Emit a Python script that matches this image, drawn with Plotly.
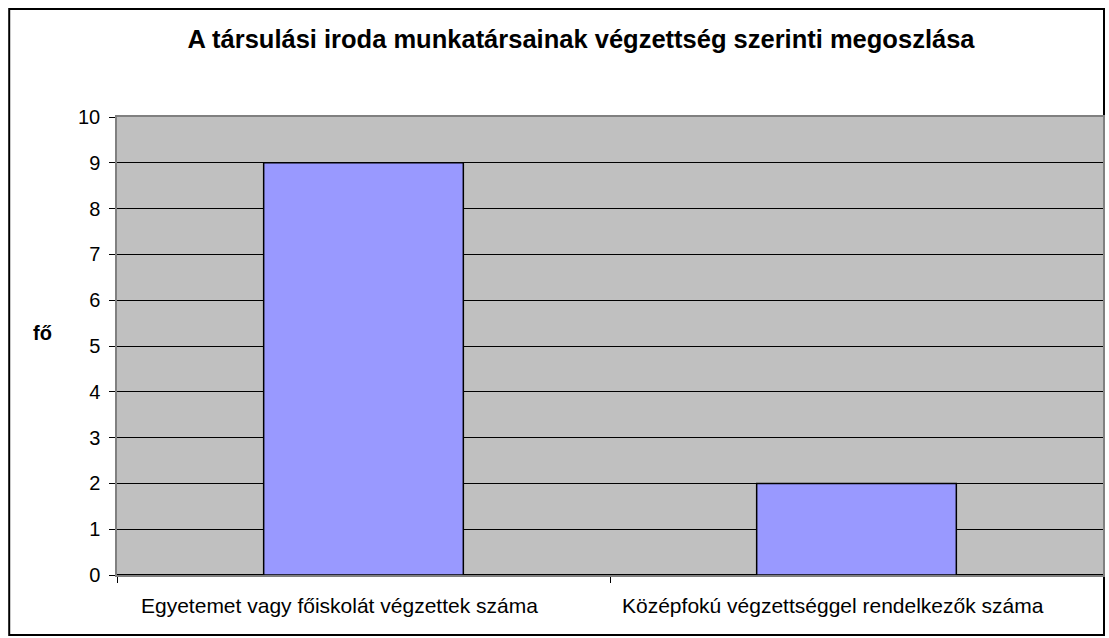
import plotly.graph_objects as go

categories = ["Egyetemet vagy főiskolát végzettek száma", "Középfokú végzettséggel rendelkezők száma"]
values = [9, 2]
y_ticks = list(range(0, 11))

fig = go.Figure()
fig.add_trace(
    go.Bar(
        x=categories,
        y=values,
        marker=dict(color="#9999FF", line=dict(color="black", width=1.5)),
        hoverinfo="x+y",
    )
)

fig.update_layout(
    width=1109,
    height=638,
    margin=dict(l=117, r=4, t=117, b=63),
    paper_bgcolor="white",
    plot_bgcolor="#C0C0C0",
    font=dict(family="Liberation Sans, Arial", size=21, color="black"),
    bargap=0.595,
    showlegend=False,
    title=dict(
        text="<b>A társulási iroda munkatársainak végzettség szerinti megoszlása</b>",
        x=581 / 1109,
        xanchor="center",
        xref="container",
        y=1 - 39 / 638,
        yanchor="middle",
        yref="container",
        font=dict(size=25.5, color="black"),
    ),
)

fig.update_xaxes(
    type="category",
    tickson="boundaries",
    ticks="outside",
    ticklen=6,
    tickcolor="black",
    showline=True,
    linecolor="#808080",
    linewidth=1.5,
    mirror=True,
    showgrid=False,
    showticklabels=False,
)

fig.update_yaxes(
    range=[0, 10],
    tickvals=y_ticks,
    ticks="outside",
    ticklen=6,
    tickcolor="black",
    showgrid=True,
    gridcolor="black",
    gridwidth=1,
    zeroline=True,
    zerolinecolor="black",
    zerolinewidth=1.5,
    showline=True,
    linecolor="#808080",
    linewidth=1.5,
    mirror=True,
    ticklabelstandoff=5,
    tickfont=dict(size=20),
)

# category labels sit a little left of the bar centres, as in the original
for cat in categories:
    fig.add_annotation(
        text=cat,
        x=cat,
        xref="x",
        yref="paper",
        y=(575 - 605) / 458,
        xanchor="center",
        yanchor="middle",
        xshift=-24,
        showarrow=False,
        font=dict(size=21, color="black"),
    )

fig.add_annotation(
    text="<b>fő</b>",
    xref="paper",
    yref="paper",
    x=(42 - 117) / 988,
    y=(575 - 333) / 458,
    xanchor="center",
    yanchor="middle",
    showarrow=False,
    font=dict(size=20, color="black"),
)

# outer chart frame
fig.add_shape(
    type="rect",
    xref="paper",
    yref="paper",
    x0=(9 - 117) / 988,
    x1=(1106 - 117) / 988,
    y0=(575 - 635) / 458,
    y1=(575 - 9) / 458,
    line=dict(color="black", width=2),
    layer="below",
)

fig.write_html(
    "out.html",
    config={"displayModeBar": False},
    post_script="document.body.style.margin='0';",
)
